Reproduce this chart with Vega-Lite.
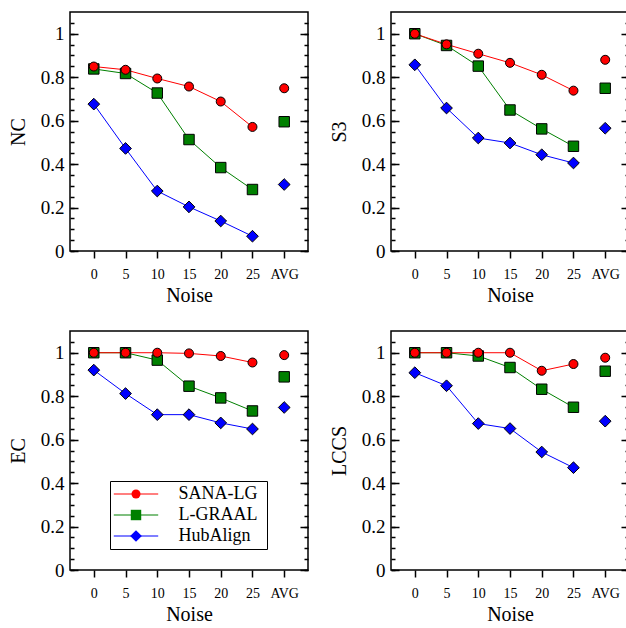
{
  "$schema": "https://vega.github.io/schema/vega-lite/v6.json",
  "padding": {"left": 7, "top": 11, "right": 0, "bottom": 0},
  "datasets": {
    "all": [
      {"metric": "NC", "method": "HubAlign", "noise": "0", "value": 0.676},
      {"metric": "NC", "method": "HubAlign", "noise": "5", "value": 0.472},
      {"metric": "NC", "method": "HubAlign", "noise": "10", "value": 0.276},
      {"metric": "NC", "method": "HubAlign", "noise": "15", "value": 0.203},
      {"metric": "NC", "method": "HubAlign", "noise": "20", "value": 0.138},
      {"metric": "NC", "method": "HubAlign", "noise": "25", "value": 0.068},
      {"metric": "NC", "method": "HubAlign", "noise": "AVG", "value": 0.306},
      {"metric": "NC", "method": "L-GRAAL", "noise": "0", "value": 0.838},
      {"metric": "NC", "method": "L-GRAAL", "noise": "5", "value": 0.817},
      {"metric": "NC", "method": "L-GRAAL", "noise": "10", "value": 0.727},
      {"metric": "NC", "method": "L-GRAAL", "noise": "15", "value": 0.513},
      {"metric": "NC", "method": "L-GRAAL", "noise": "20", "value": 0.384},
      {"metric": "NC", "method": "L-GRAAL", "noise": "25", "value": 0.283},
      {"metric": "NC", "method": "L-GRAAL", "noise": "AVG", "value": 0.595},
      {"metric": "NC", "method": "SANA-LG", "noise": "0", "value": 0.849},
      {"metric": "NC", "method": "SANA-LG", "noise": "5", "value": 0.834},
      {"metric": "NC", "method": "SANA-LG", "noise": "10", "value": 0.794},
      {"metric": "NC", "method": "SANA-LG", "noise": "15", "value": 0.757},
      {"metric": "NC", "method": "SANA-LG", "noise": "20", "value": 0.688},
      {"metric": "NC", "method": "SANA-LG", "noise": "25", "value": 0.571},
      {"metric": "NC", "method": "SANA-LG", "noise": "AVG", "value": 0.749},

      {"metric": "S3", "method": "HubAlign", "noise": "0", "value": 0.857},
      {"metric": "S3", "method": "HubAlign", "noise": "5", "value": 0.658},
      {"metric": "S3", "method": "HubAlign", "noise": "10", "value": 0.52},
      {"metric": "S3", "method": "HubAlign", "noise": "15", "value": 0.497},
      {"metric": "S3", "method": "HubAlign", "noise": "20", "value": 0.443},
      {"metric": "S3", "method": "HubAlign", "noise": "25", "value": 0.405},
      {"metric": "S3", "method": "HubAlign", "noise": "AVG", "value": 0.565},
      {"metric": "S3", "method": "L-GRAAL", "noise": "0", "value": 1.0},
      {"metric": "S3", "method": "L-GRAAL", "noise": "5", "value": 0.946},
      {"metric": "S3", "method": "L-GRAAL", "noise": "10", "value": 0.851},
      {"metric": "S3", "method": "L-GRAAL", "noise": "15", "value": 0.649},
      {"metric": "S3", "method": "L-GRAAL", "noise": "20", "value": 0.562},
      {"metric": "S3", "method": "L-GRAAL", "noise": "25", "value": 0.482},
      {"metric": "S3", "method": "L-GRAAL", "noise": "AVG", "value": 0.749},
      {"metric": "S3", "method": "SANA-LG", "noise": "0", "value": 1.0},
      {"metric": "S3", "method": "SANA-LG", "noise": "5", "value": 0.951},
      {"metric": "S3", "method": "SANA-LG", "noise": "10", "value": 0.908},
      {"metric": "S3", "method": "SANA-LG", "noise": "15", "value": 0.866},
      {"metric": "S3", "method": "SANA-LG", "noise": "20", "value": 0.811},
      {"metric": "S3", "method": "SANA-LG", "noise": "25", "value": 0.738},
      {"metric": "S3", "method": "SANA-LG", "noise": "AVG", "value": 0.88},

      {"metric": "EC", "method": "HubAlign", "noise": "0", "value": 0.92},
      {"metric": "EC", "method": "HubAlign", "noise": "5", "value": 0.812},
      {"metric": "EC", "method": "HubAlign", "noise": "10", "value": 0.715},
      {"metric": "EC", "method": "HubAlign", "noise": "15", "value": 0.715},
      {"metric": "EC", "method": "HubAlign", "noise": "20", "value": 0.677},
      {"metric": "EC", "method": "HubAlign", "noise": "25", "value": 0.649},
      {"metric": "EC", "method": "HubAlign", "noise": "AVG", "value": 0.748},
      {"metric": "EC", "method": "L-GRAAL", "noise": "0", "value": 1.0},
      {"metric": "EC", "method": "L-GRAAL", "noise": "5", "value": 1.0},
      {"metric": "EC", "method": "L-GRAAL", "noise": "10", "value": 0.966},
      {"metric": "EC", "method": "L-GRAAL", "noise": "15", "value": 0.846},
      {"metric": "EC", "method": "L-GRAAL", "noise": "20", "value": 0.792},
      {"metric": "EC", "method": "L-GRAAL", "noise": "25", "value": 0.732},
      {"metric": "EC", "method": "L-GRAAL", "noise": "AVG", "value": 0.889},
      {"metric": "EC", "method": "SANA-LG", "noise": "0", "value": 1.0},
      {"metric": "EC", "method": "SANA-LG", "noise": "5", "value": 1.0},
      {"metric": "EC", "method": "SANA-LG", "noise": "10", "value": 1.0},
      {"metric": "EC", "method": "SANA-LG", "noise": "15", "value": 0.997},
      {"metric": "EC", "method": "SANA-LG", "noise": "20", "value": 0.985},
      {"metric": "EC", "method": "SANA-LG", "noise": "25", "value": 0.955},
      {"metric": "EC", "method": "SANA-LG", "noise": "AVG", "value": 0.989},

      {"metric": "LCCS", "method": "HubAlign", "noise": "0", "value": 0.908},
      {"metric": "LCCS", "method": "HubAlign", "noise": "5", "value": 0.848},
      {"metric": "LCCS", "method": "HubAlign", "noise": "10", "value": 0.674},
      {"metric": "LCCS", "method": "HubAlign", "noise": "15", "value": 0.651},
      {"metric": "LCCS", "method": "HubAlign", "noise": "20", "value": 0.543},
      {"metric": "LCCS", "method": "HubAlign", "noise": "25", "value": 0.471},
      {"metric": "LCCS", "method": "HubAlign", "noise": "AVG", "value": 0.685},
      {"metric": "LCCS", "method": "L-GRAAL", "noise": "0", "value": 1.0},
      {"metric": "LCCS", "method": "L-GRAAL", "noise": "5", "value": 1.0},
      {"metric": "LCCS", "method": "L-GRAAL", "noise": "10", "value": 0.985},
      {"metric": "LCCS", "method": "L-GRAAL", "noise": "15", "value": 0.932},
      {"metric": "LCCS", "method": "L-GRAAL", "noise": "20", "value": 0.832},
      {"metric": "LCCS", "method": "L-GRAAL", "noise": "25", "value": 0.749},
      {"metric": "LCCS", "method": "L-GRAAL", "noise": "AVG", "value": 0.915},
      {"metric": "LCCS", "method": "SANA-LG", "noise": "0", "value": 1.0},
      {"metric": "LCCS", "method": "SANA-LG", "noise": "5", "value": 1.0},
      {"metric": "LCCS", "method": "SANA-LG", "noise": "10", "value": 1.0},
      {"metric": "LCCS", "method": "SANA-LG", "noise": "15", "value": 1.0},
      {"metric": "LCCS", "method": "SANA-LG", "noise": "20", "value": 0.917},
      {"metric": "LCCS", "method": "SANA-LG", "noise": "25", "value": 0.948},
      {"metric": "LCCS", "method": "SANA-LG", "noise": "AVG", "value": 0.977}
    ]
  },
  "config": {
    "font": "Liberation Serif",
    "view": {"stroke": "black", "strokeWidth": 1.5},
    "axis": {
      "labelFont": "Liberation Serif", "titleFont": "Liberation Serif",
      "labelColor": "black", "titleColor": "black", "titleFontWeight": "normal",
      "domain": false, "gridColor": "black", "gridWidth": 1.5, "gridOpacity": 1,
      "tickColor": "black"
    },
    "axisX": {"labelFontSize": 14, "titleFontSize": 20, "tickSize": 7, "tickWidth": 1.5, "labelPadding": 9, "titlePadding": 4, "grid": false, "labelAngle": 0},
    "axisY": {"labelFontSize": 19, "titleFontSize": 20, "ticks": false, "tickSize": 0, "labelPadding": 6, "titlePadding": 12},
    "legend": {"labelFont": "Liberation Serif", "labelColor": "black", "labelLimit": 0}
  },
  "columns": 2,
  "spacing": {"row": 24, "column": 19},
  "resolve": {"legend": {"stroke": "independent", "fill": "independent", "shape": "independent", "size": "independent"}},
  "concat": [
    {
      "width": 238, "height": 239,
      "data": {"name": "all"},
      "transform": [{"filter": "datum.metric === 'NC'"}],
      "resolve": {"axis": {"y": "independent"}},
      "layer": [
        {
          "transform": [{"filter": "datum.noise !== 'AVG'"}],
          "mark": {"type": "line", "strokeWidth": 1},
          "encoding": {
            "x": {"field": "noise", "type": "ordinal", "scale": {"type": "point", "domain": ["0","5","10","15","20","25","AVG"], "padding": 0.75}, "axis": {"title": "Noise"}},
            "y": {"field": "value", "type": "quantitative", "scale": {"domain": [0, 1.1], "nice": false}, "axis": {"title": "NC", "orient": "left", "values": [0,0.2,0.4,0.6,0.8,1], "format": "~g", "grid": true, "gridDash": [8, 222]}},
            "stroke": {"field": "method", "type": "nominal", "scale": {"domain": ["SANA-LG","L-GRAAL","HubAlign"], "range": ["#ff0000","#008000","#0000ff"]}, "legend": null},
            "order": {"value": null}
          }
        },
        {
          "mark": {"type": "point", "filled": true, "stroke": "black", "strokeWidth": 1, "opacity": 1},
          "encoding": {
            "x": {"field": "noise", "type": "ordinal", "scale": {"type": "point", "domain": ["0","5","10","15","20","25","AVG"], "padding": 0.75}, "axis": {"title": "Noise"}},
            "y": {"field": "value", "type": "quantitative", "scale": {"domain": [0, 1.1], "nice": false}, "axis": {"title": null, "orient": "left", "values": [0,0.05,0.1,0.15,0.2,0.25,0.3,0.35,0.4,0.45,0.5,0.55,0.6,0.65,0.7,0.75,0.8,0.85,0.9,0.95,1,1.05], "labels": false, "grid": true, "gridDash": [4, 230]}},
            "fill": {"field": "method", "type": "nominal", "scale": {"range": ["#0000ff","#008000","#ff0000"]}, "legend": null},
            "shape": {"field": "method", "type": "nominal", "scale": {"range": ["diamond","square","circle"]}, "legend": null},
            "size": {"field": "method", "type": "nominal", "scale": {"range": [137, 81, 81]}, "legend": null}
          }
        }
      ]
    },
    {
      "width": 238, "height": 239,
      "data": {"name": "all"},
      "transform": [{"filter": "datum.metric === 'S3'"}],
      "resolve": {"axis": {"y": "independent"}},
      "layer": [
        {
          "transform": [{"filter": "datum.noise !== 'AVG'"}],
          "mark": {"type": "line", "strokeWidth": 1},
          "encoding": {
            "x": {"field": "noise", "type": "ordinal", "scale": {"type": "point", "domain": ["0","5","10","15","20","25","AVG"], "padding": 0.75}, "axis": {"title": "Noise"}},
            "y": {"field": "value", "type": "quantitative", "scale": {"domain": [0, 1.1], "nice": false}, "axis": {"title": "S3", "orient": "left", "values": [0,0.2,0.4,0.6,0.8,1], "format": "~g", "grid": true, "gridDash": [8, 222]}},
            "stroke": {"field": "method", "type": "nominal", "scale": {"domain": ["SANA-LG","L-GRAAL","HubAlign"], "range": ["#ff0000","#008000","#0000ff"]}, "legend": null},
            "order": {"value": null}
          }
        },
        {
          "mark": {"type": "point", "filled": true, "stroke": "black", "strokeWidth": 1, "opacity": 1},
          "encoding": {
            "x": {"field": "noise", "type": "ordinal", "scale": {"type": "point", "domain": ["0","5","10","15","20","25","AVG"], "padding": 0.75}, "axis": {"title": "Noise"}},
            "y": {"field": "value", "type": "quantitative", "scale": {"domain": [0, 1.1], "nice": false}, "axis": {"title": null, "orient": "left", "values": [0,0.05,0.1,0.15,0.2,0.25,0.3,0.35,0.4,0.45,0.5,0.55,0.6,0.65,0.7,0.75,0.8,0.85,0.9,0.95,1,1.05], "labels": false, "grid": true, "gridDash": [4, 230]}},
            "fill": {"field": "method", "type": "nominal", "scale": {"range": ["#0000ff","#008000","#ff0000"]}, "legend": null},
            "shape": {"field": "method", "type": "nominal", "scale": {"range": ["diamond","square","circle"]}, "legend": null},
            "size": {"field": "method", "type": "nominal", "scale": {"range": [137, 81, 81]}, "legend": null}
          }
        }
      ]
    },
    {
      "width": 238, "height": 239,
      "data": {"name": "all"},
      "transform": [{"filter": "datum.metric === 'EC'"}],
      "resolve": {"axis": {"y": "independent"}},
      "layer": [
        {
          "transform": [{"filter": "datum.noise !== 'AVG'"}],
          "mark": {"type": "line", "strokeWidth": 1},
          "encoding": {
            "x": {"field": "noise", "type": "ordinal", "scale": {"type": "point", "domain": ["0","5","10","15","20","25","AVG"], "padding": 0.75}, "axis": {"title": "Noise"}},
            "y": {"field": "value", "type": "quantitative", "scale": {"domain": [0, 1.1], "nice": false}, "axis": {"title": "EC", "orient": "left", "values": [0,0.2,0.4,0.6,0.8,1], "format": "~g", "grid": true, "gridDash": [8, 222]}},
            "stroke": {"field": "method", "type": "nominal", "scale": {"domain": ["SANA-LG","L-GRAAL","HubAlign"], "range": ["#ff0000","#008000","#0000ff"]},
              "legend": {"orient": "none", "legendX": 40, "legendY": 150, "title": null, "symbolType": "M-4.44,0H4.44", "symbolSize": 100, "symbolStrokeWidth": 1.2, "labelExpr": "''", "labelFontSize": 18, "labelOffset": 117.2, "symbolOffset": 13, "padding": 4, "rowPadding": 3, "strokeColor": "black", "zindex": 0}},
            "order": {"value": null}
          }
        },
        {
          "mark": {"type": "point", "filled": true, "stroke": "black", "strokeWidth": 1, "opacity": 1},
          "encoding": {
            "x": {"field": "noise", "type": "ordinal", "scale": {"type": "point", "domain": ["0","5","10","15","20","25","AVG"], "padding": 0.75}, "axis": {"title": "Noise"}},
            "y": {"field": "value", "type": "quantitative", "scale": {"domain": [0, 1.1], "nice": false}, "axis": {"title": null, "orient": "left", "values": [0,0.05,0.1,0.15,0.2,0.25,0.3,0.35,0.4,0.45,0.5,0.55,0.6,0.65,0.7,0.75,0.8,0.85,0.9,0.95,1,1.05], "labels": false, "grid": true, "gridDash": [4, 230]}},
            "fill": {"field": "method", "type": "nominal", "scale": {"range": ["#0000ff","#008000","#ff0000"]},
              "legend": {"orient": "none", "legendX": 40, "legendY": 150, "title": null, "values": ["SANA-LG","L-GRAAL","HubAlign"], "labelFontSize": 18, "labelOffset": 33.5, "symbolOffset": 13, "padding": 4, "rowPadding": 3, "symbolStrokeColor": "black", "symbolStrokeWidth": 1, "symbolOpacity": 1, "zindex": 1}},
            "shape": {"field": "method", "type": "nominal", "scale": {"range": ["diamond","square","circle"]},
              "legend": {"orient": "none", "legendX": 40, "legendY": 150, "title": null, "values": ["SANA-LG","L-GRAAL","HubAlign"], "labelFontSize": 18, "labelOffset": 33.5, "symbolOffset": 13, "padding": 4, "rowPadding": 3, "symbolStrokeColor": "black", "symbolStrokeWidth": 1, "symbolOpacity": 1, "zindex": 1}},
            "size": {"field": "method", "type": "nominal", "scale": {"range": [137, 81, 81]},
              "legend": {"orient": "none", "legendX": 40, "legendY": 150, "title": null, "values": ["SANA-LG","L-GRAAL","HubAlign"], "labelFontSize": 18, "labelOffset": 33.5, "symbolOffset": 13, "padding": 4, "rowPadding": 3, "symbolStrokeColor": "black", "symbolStrokeWidth": 1, "symbolOpacity": 1, "zindex": 1}}
          }
        }
      ]
    },
    {
      "width": 238, "height": 239,
      "data": {"name": "all"},
      "transform": [{"filter": "datum.metric === 'LCCS'"}],
      "resolve": {"axis": {"y": "independent"}},
      "layer": [
        {
          "transform": [{"filter": "datum.noise !== 'AVG'"}],
          "mark": {"type": "line", "strokeWidth": 1},
          "encoding": {
            "x": {"field": "noise", "type": "ordinal", "scale": {"type": "point", "domain": ["0","5","10","15","20","25","AVG"], "padding": 0.75}, "axis": {"title": "Noise"}},
            "y": {"field": "value", "type": "quantitative", "scale": {"domain": [0, 1.1], "nice": false}, "axis": {"title": "LCCS", "orient": "left", "values": [0,0.2,0.4,0.6,0.8,1], "format": "~g", "grid": true, "gridDash": [8, 222]}},
            "stroke": {"field": "method", "type": "nominal", "scale": {"domain": ["SANA-LG","L-GRAAL","HubAlign"], "range": ["#ff0000","#008000","#0000ff"]}, "legend": null},
            "order": {"value": null}
          }
        },
        {
          "mark": {"type": "point", "filled": true, "stroke": "black", "strokeWidth": 1, "opacity": 1},
          "encoding": {
            "x": {"field": "noise", "type": "ordinal", "scale": {"type": "point", "domain": ["0","5","10","15","20","25","AVG"], "padding": 0.75}, "axis": {"title": "Noise"}},
            "y": {"field": "value", "type": "quantitative", "scale": {"domain": [0, 1.1], "nice": false}, "axis": {"title": null, "orient": "left", "values": [0,0.05,0.1,0.15,0.2,0.25,0.3,0.35,0.4,0.45,0.5,0.55,0.6,0.65,0.7,0.75,0.8,0.85,0.9,0.95,1,1.05], "labels": false, "grid": true, "gridDash": [4, 230]}},
            "fill": {"field": "method", "type": "nominal", "scale": {"range": ["#0000ff","#008000","#ff0000"]}, "legend": null},
            "shape": {"field": "method", "type": "nominal", "scale": {"range": ["diamond","square","circle"]}, "legend": null},
            "size": {"field": "method", "type": "nominal", "scale": {"range": [137, 81, 81]}, "legend": null}
          }
        }
      ]
    }
  ]
}
